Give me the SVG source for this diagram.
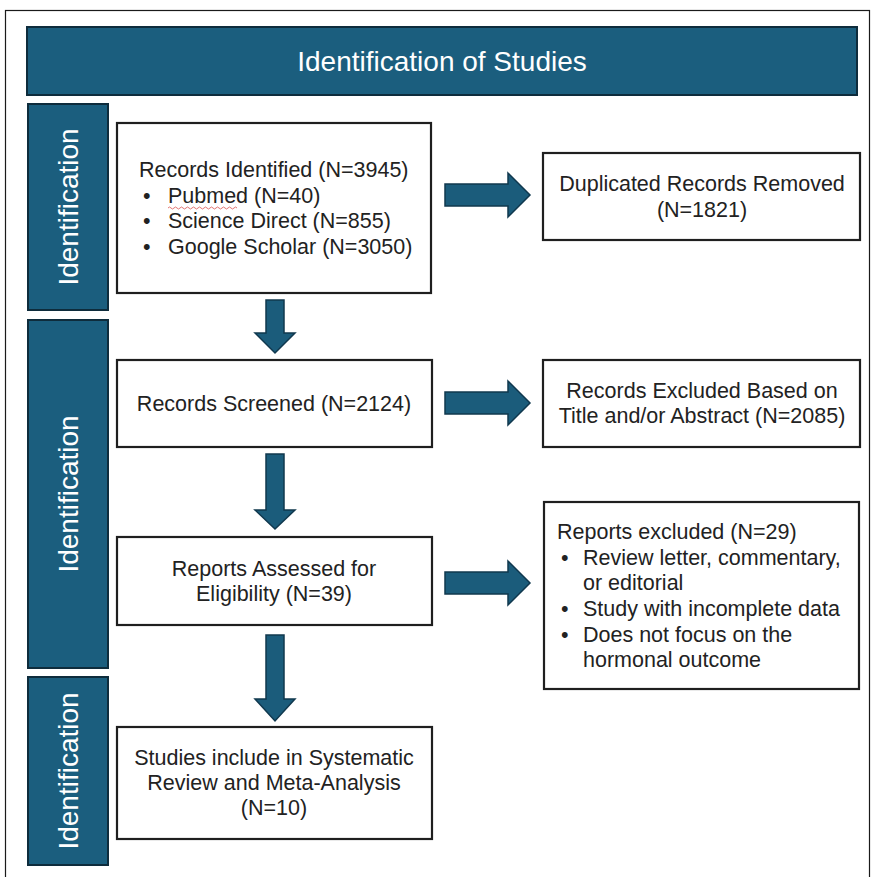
<svg xmlns="http://www.w3.org/2000/svg" width="875" height="877" viewBox="0 0 875 877">
<style>
.frame{fill:none;stroke:#1a1a1a;stroke-width:1.2}
.band{fill:#1b5e7e;stroke:#0e2c3c;stroke-width:2}
.bandtxt{font-family:"Liberation Sans",Arial,sans-serif;font-size:28px;fill:#ffffff;text-anchor:middle}
.box{fill:#ffffff;stroke:#1f1f1f;stroke-width:2.2}
.t{font-family:"Liberation Sans",Arial,sans-serif;font-size:21.5px;fill:#222222}
.c{text-anchor:middle}
.arrow{fill:#1b5c7b;stroke:#10384e;stroke-width:1.5;stroke-linejoin:miter}
</style>
<rect class="frame" x="5.5" y="10.5" width="864" height="880"/>

<g id="title">
<rect class="band" x="27" y="27" width="830" height="68"/>
<text class="bandtxt" x="442" y="71">Identification of Studies</text>
</g>

<g id="phase1">
<rect class="band" x="28" y="104" width="80" height="206"/>
<text class="bandtxt" transform="translate(78,207) rotate(-90)" font-size="29">Identification</text>
</g>
<g id="phase2">
<rect class="band" x="28" y="320" width="80" height="348"/>
<text class="bandtxt" transform="translate(78,494) rotate(-90)" font-size="29">Identification</text>
</g>
<g id="phase3">
<rect class="band" x="28" y="677" width="80" height="188"/>
<text class="bandtxt" transform="translate(78,771) rotate(-90)" font-size="29">Identification</text>
</g>

<g id="records-identified">
<rect class="box" x="117" y="123" width="314" height="170"/>
<text class="t" x="139" y="177">Records Identified (N=3945)</text>
<text class="t" x="143" y="203">•</text><text class="t" x="168" y="203">Pubmed (N=40)</text>
<path d="M168 208 q1.5 -2 3 0 t3 0 t3 0 t3 0 t3 0 t3 0 t3 0 t3 0 t3 0 t3 0 t3 0 t3 0 t3 0 t3 0 t3 0 t3 0 t3 0 t3 0 t3 0 t3 0 t3 0 t3 0 t3 0" fill="none" stroke="#d9534f" stroke-width="0.8"/>
<text class="t" x="143" y="228">•</text><text class="t" x="168" y="228">Science Direct (N=855)</text>
<text class="t" x="143" y="254">•</text><text class="t" x="168" y="254">Google Scholar (N=3050)</text>
</g>

<g id="duplicates-removed">
<rect class="box" x="543" y="153" width="317" height="87"/>
<text class="t c" x="702" y="191">Duplicated Records Removed</text>
<text class="t c" x="702" y="217">(N=1821)</text>
</g>

<g id="records-screened">
<rect class="box" x="117" y="360" width="315" height="87"/>
<text class="t c" x="274" y="411">Records Screened (N=2124)</text>
</g>

<g id="records-excluded">
<rect class="box" x="543" y="360" width="317" height="87"/>
<text class="t c" x="702" y="398">Records Excluded Based on</text>
<text class="t c" x="702" y="423">Title and/or Abstract (N=2085)</text>
</g>

<g id="reports-assessed">
<rect class="box" x="117" y="537" width="315" height="88"/>
<text class="t c" x="274" y="576">Reports Assessed for</text>
<text class="t c" x="274" y="601">Eligibility (N=39)</text>
</g>

<g id="reports-excluded">
<rect class="box" x="544" y="502" width="315" height="187"/>
<text class="t" x="557" y="539">Reports excluded (N=29)</text>
<text class="t" x="561" y="565">•</text><text class="t" x="583" y="565">Review letter, commentary,</text>
<text class="t" x="583" y="590">or editorial</text>
<text class="t" x="561" y="616">•</text><text class="t" x="583" y="616">Study with incomplete data</text>
<text class="t" x="561" y="642">•</text><text class="t" x="583" y="642">Does not focus on the</text>
<text class="t" x="583" y="667">hormonal outcome</text>
</g>

<g id="studies-included">
<rect class="box" x="117" y="727" width="315" height="112"/>
<text class="t c" x="274" y="765">Studies include in Systematic</text>
<text class="t c" x="274" y="790">Review and Meta-Analysis</text>
<text class="t c" x="274" y="815">(N=10)</text>
</g>

<g id="connectors">
<path class="arrow" d="M445 184 H508 V173 L530 195 L508 217 V206 H445 Z"/>
<path class="arrow" d="M445 392 H508 V381 L530 403 L508 425 V414 H445 Z"/>
<path class="arrow" d="M445 572 H508 V561 L530 583 L508 605 V594 H445 Z"/>
<path class="arrow" d="M266 300 V333 H255 L275 353 L295 333 H284 V300 Z"/>
<path class="arrow" d="M266 454 V510 H255 L275 529 L295 510 H284 V454 Z"/>
<path class="arrow" d="M266 635 V699 H255 L275 721 L295 699 H284 V635 Z"/>
</g>
</svg>
